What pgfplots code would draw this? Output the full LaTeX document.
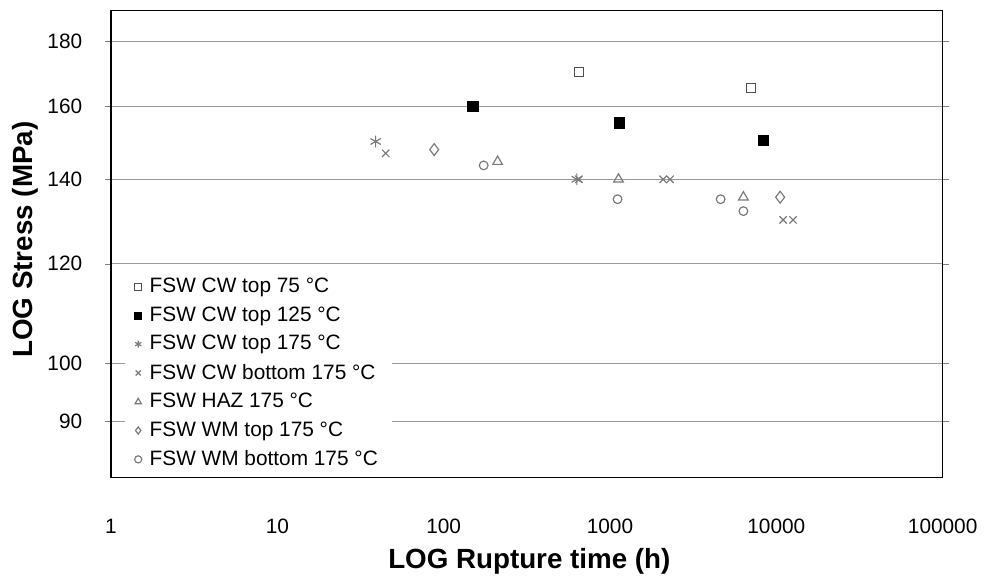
\documentclass[border=0pt]{standalone}
\usepackage{fontspec}
\setmainfont{Liberation Sans}
\usepackage{pgfplots}
\pgfplotsset{compat=1.18}
\definecolor{gridgray}{HTML}{9A9A9A}
\definecolor{markgray}{HTML}{7A7A7A}
\definecolor{darkmark}{HTML}{505050}
\begin{document}
\begin{tikzpicture}
\begin{axis}[
  scale only axis, width=419.5pt, height=235.5pt,
  xmode=log, ymode=log,
  xmin=1, xmax=100000, ymin=81.2, ymax=190.4,
  xtick={1,10,100,1000,10000,100000},
  xticklabels={1,10,100,1000,10000,100000},
  ytick={90,100,120,140,160,180},
  yticklabels={90,100,120,140,160,180},
  minor xtick={}, minor ytick={},
  tick align=outside, major tick length=3pt,
  xtick style={draw=none},
  ymajorgrids, grid style={gridgray, line width=0.6pt},
  axis line style={line width=0.6pt},
  tick label style={font=\fontsize{10.5}{12}\selectfont},
  xticklabel style={anchor=center, yshift=-21.5pt},
  yticklabel style={anchor=east, xshift=-8pt},
  xlabel={\bfseries LOG Rupture time (h)},
  ylabel={\bfseries LOG Stress (MPa)},
  label style={font=\fontsize{14}{16}\selectfont},
  xlabel style={at={(axis description cs:0.503,-0.178)}, anchor=center},
  ylabel style={at={(axis description cs:-0.1025,0.51)}, anchor=center, rotate=0},
  legend style={draw=none, fill=white, at={(axis description cs:0.016,0.439)},
    anchor=north west, font=\fontsize{10.5}{12}\selectfont, row sep=1.6pt,
    column sep=2pt, inner xsep=5pt, inner ysep=0.5pt},
  legend cell align=left,
  legend image code/.code={\draw[mark repeat=2,mark phase=2,mark size=1.8pt] plot coordinates {(0cm,0cm) (0.15cm,0cm) (0.3cm,0cm)};},
  clip=false,
]
\addplot[only marks, mark=square, mark size=2.3pt, mark options={draw=darkmark, fill=white, line width=0.6pt}]
  coordinates {(650,170.2) (7075,165.4)};
\addlegendentry{FSW CW top 75 °C}
\addplot[only marks, mark=square*, mark size=2.6pt, mark options={draw=black, fill=black}]
  coordinates {(149.7,160) (1141,155.2) (8342,150.3)};
\addlegendentry{FSW CW top 125 °C}
\addplot[only marks, mark=asterisk, mark size=3pt, mark options={draw=markgray, line width=0.6pt}]
  coordinates {(39,150) (632,140)};
\addlegendentry{FSW CW top 175 °C}
\addplot[only marks, mark=x, mark size=2.6pt, mark options={draw=markgray, line width=0.6pt}]
  coordinates {(44.8,146.8) (650,140) (2086,140) (2297,140) (10980,130) (12600,130)};
\addlegendentry{FSW CW bottom 175 °C}
\addplot[only marks, mark=triangle, mark size=2.8pt, mark options={draw=markgray, line width=0.6pt}]
  coordinates {(211,144.6) (1125,140) (6340,135.5)};
\addlegendentry{FSW HAZ 175 °C}
\addplot[only marks, mark=diamond, mark size=3pt, mark options={draw=markgray, line width=0.6pt}]
  coordinates {(87.7,147.8) (10540,135.5)};
\addlegendentry{FSW WM top 175 °C}
\addplot[only marks, mark=o, mark size=2.2pt, mark options={draw=markgray, line width=0.6pt}]
  coordinates {(174,143.6) (1110,135) (4624,135) (6340,132.1)};
\addlegendentry{FSW WM bottom 175 °C}
\end{axis}
% frame drawn again so that the legend does not hide it
\draw[line width=0.6pt] (current axis.south west) rectangle (current axis.north east);
\path (current axis.south west) ++(-56pt,-48.5pt) rectangle ++(492pt,289.5pt);
\end{tikzpicture}
\end{document}
